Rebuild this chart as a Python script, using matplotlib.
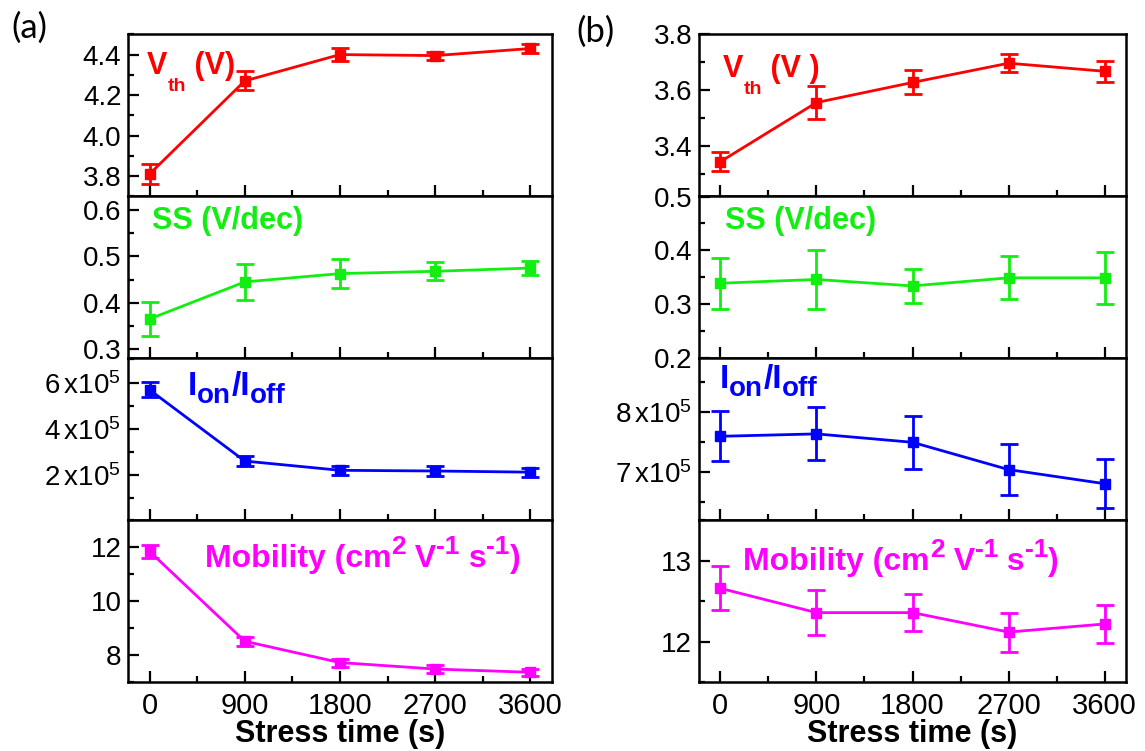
import matplotlib
matplotlib.use("Agg")
import matplotlib.pyplot as plt
import matplotlib.transforms as mtransforms
from matplotlib.ticker import MultipleLocator, FixedLocator, FuncFormatter

plt.rcParams['font.family'] = ['Liberation Sans', 'DejaVu Sans']
plt.rcParams['mathtext.fontset'] = 'custom'
plt.rcParams['mathtext.rm'] = 'Liberation Sans'
plt.rcParams['mathtext.bf'] = 'Liberation Sans:bold'

RED = "#FF0000"
GREEN = "#12EE12"
BLUE = "#0000FF"
MAGENTA = "#FF00FF"

# stress time (s)
t = [0, 900, 1800, 2700, 3600]

# (a)
a_vth = [3.81, 4.27, 4.40, 4.395, 4.43]
a_vth_err = [0.05, 0.047, 0.03, 0.02, 0.02]
a_ss = [0.365, 0.445, 0.463, 0.468, 0.475]
a_ss_err = [0.037, 0.039, 0.031, 0.019, 0.015]
a_ratio = [5.69e5, 2.61e5, 2.21e5, 2.18e5, 2.13e5]
a_ratio_err = [0.32e5, 0.2e5, 0.2e5, 0.2e5, 0.2e5]
a_mob = [11.85, 8.52, 7.73, 7.49, 7.37]
a_mob_err = [0.25, 0.17, 0.15, 0.15, 0.14]

# (b)
b_vth = [3.344, 3.556, 3.628, 3.697, 3.668]
b_vth_err = [0.035, 0.058, 0.043, 0.033, 0.038]
b_ss = [0.339, 0.346, 0.334, 0.349, 0.349]
b_ss_err = [0.047, 0.054, 0.032, 0.04, 0.048]
b_ratio = [7.6e5, 7.64e5, 7.5e5, 7.045e5, 6.81e5]
b_ratio_err = [0.415e5, 0.44e5, 0.44e5, 0.42e5, 0.41e5]
b_mob = [12.66, 12.36, 12.36, 12.12, 12.22]
b_mob_err = [0.27, 0.28, 0.23, 0.24, 0.24]

fig = plt.figure(figsize=(11.45, 7.51), dpi=100)
renderer = fig.canvas.get_renderer()

H = 0.2157
BOT = 0.0915
cols = [(0.1121, 0.4818 - 0.1121), (0.6105, 0.9834 - 0.6105)]


def ratio_fmt(v, p):
    return r'$\mathrm{%d{\,}x10^{5}}$' % round(v / 1e5)


def one_dec(v, p):
    return "%.1f" % v


def style(ax, bottom):
    for s in ax.spines.values():
        s.set_linewidth(1.8)
    ax.tick_params(which='both', direction='in', top=False, right=False,
                   width=1.6, labelsize=20, pad=5)
    ax.tick_params(which='major', length=8)
    ax.tick_params(which='minor', length=4.5)
    ax.set_xlim(-200, 3800)
    ax.xaxis.set_major_locator(FixedLocator(t))
    ax.xaxis.set_minor_locator(MultipleLocator(450))
    if bottom:
        ax.tick_params(axis='x', labelsize=21, pad=7)
    else:
        ax.tick_params(axis='x', labelbottom=False)


def draw(ax, y, err, color):
    ax.errorbar(t, y, yerr=err, fmt='-s', color=color, lw=2, ms=6.5,
                elinewidth=2, capsize=6.5, capthick=2)


def rich(ax, x, y, pieces, color):
    # pieces of (text, size, dy in points), laid out on one baseline
    ox = 0
    for s, size, dy in pieces:
        tr = mtransforms.offset_copy(ax.transAxes, fig=fig, x=ox, y=dy, units='points')
        txt = ax.text(x, y, s, transform=tr, fontsize=size, fontweight='bold',
                      color=color, va='baseline')
        ox += txt.get_window_extent(renderer).width * 72 / fig.dpi


axes = []
for c, (x0, w) in enumerate(cols):
    col = []
    for r in range(4):
        ax = fig.add_axes([x0, BOT + (3 - r) * H, w, H])
        style(ax, r == 3)
        col.append(ax)
    axes.append(col)

# ---- (a) ----
ax = axes[0][0]
draw(ax, a_vth, a_vth_err, RED)
ax.set_ylim(3.7, 4.5)
ax.yaxis.set_major_locator(FixedLocator([3.8, 4.0, 4.2, 4.4]))
ax.yaxis.set_minor_locator(MultipleLocator(0.1))
ax.yaxis.set_major_formatter(FuncFormatter(one_dec))
rich(ax, 0.044, 0.754, [("V", 22, 0), ("th", 14, -12), (" (V)", 22, 0)], RED)

ax = axes[0][1]
draw(ax, a_ss, a_ss_err, GREEN)
ax.set_ylim(0.28, 0.63)
ax.yaxis.set_major_locator(FixedLocator([0.3, 0.4, 0.5, 0.6]))
ax.yaxis.set_minor_locator(MultipleLocator(0.05))
ax.yaxis.set_major_formatter(FuncFormatter(one_dec))
ax.text(0.056, 0.846, "SS (V/dec)", transform=ax.transAxes, color=GREEN,
        fontsize=22, fontweight='bold', va='center')

ax = axes[0][2]
draw(ax, a_ratio, a_ratio_err, BLUE)
ax.set_ylim(0.05e5, 7.05e5)
ax.yaxis.set_major_locator(FixedLocator([2e5, 4e5, 6e5]))
ax.yaxis.set_minor_locator(MultipleLocator(1e5))
ax.yaxis.set_major_formatter(FuncFormatter(ratio_fmt))
rich(ax, 0.141, 0.773, [("I", 24, 0), ("on", 20, -5.5), ("/I", 24, 0), ("off", 20, -5.5)], BLUE)

ax = axes[0][3]
draw(ax, a_mob, a_mob_err, MAGENTA)
ax.set_ylim(7, 13)
ax.yaxis.set_major_locator(FixedLocator([8, 10, 12]))
ax.yaxis.set_minor_locator(MultipleLocator(1))
rich(ax, 0.181, 0.712, [("Mobility (cm", 23, 0), ("2", 19, 9), (" V", 23, 0), ("-1", 19, 9),
                        (" s", 23, 0), ("-1", 19, 9), (")", 23, 0)], MAGENTA)

# ---- (b) ----
ax = axes[1][0]
draw(ax, b_vth, b_vth_err, RED)
ax.set_ylim(3.22, 3.8005)
ax.yaxis.set_major_locator(FixedLocator([3.4, 3.6, 3.8]))
ax.yaxis.set_minor_locator(MultipleLocator(0.1))
ax.yaxis.set_major_formatter(FuncFormatter(one_dec))
rich(ax, 0.056, 0.735, [("V", 22, 0), ("th", 14, -12), (" (V )", 22, 0)], RED)

ax = axes[1][1]
draw(ax, b_ss, b_ss_err, GREEN)
ax.set_ylim(0.1995, 0.5005)
ax.yaxis.set_major_locator(FixedLocator([0.2, 0.3, 0.4, 0.5]))
ax.yaxis.set_minor_locator(MultipleLocator(0.05))
ax.yaxis.set_major_formatter(FuncFormatter(one_dec))
ax.text(0.061, 0.846, "SS (V/dec)", transform=ax.transAxes, color=GREEN,
        fontsize=22, fontweight='bold', va='center')

ax = axes[1][2]
draw(ax, b_ratio, b_ratio_err, BLUE)
ax.set_ylim(6.2e5, 8.9e5)
ax.yaxis.set_major_locator(FixedLocator([7e5, 8e5]))
ax.yaxis.set_minor_locator(MultipleLocator(0.5e5))
ax.yaxis.set_major_formatter(FuncFormatter(ratio_fmt))
rich(ax, 0.049, 0.817, [("I", 24, 0), ("on", 20, -5.5), ("/I", 24, 0), ("off", 20, -5.5)], BLUE)

ax = axes[1][3]
draw(ax, b_mob, b_mob_err, MAGENTA)
ax.set_ylim(11.5, 13.5)
ax.yaxis.set_major_locator(FixedLocator([12, 13]))
ax.yaxis.set_minor_locator(MultipleLocator(0.5))
rich(ax, 0.104, 0.696, [("Mobility (cm", 23, 0), ("2", 19, 9), (" V", 23, 0), ("-1", 19, 9),
                        (" s", 23, 0), ("-1", 19, 9), (")", 23, 0)], MAGENTA)

# x labels
for xc in (340 / 1145, 912 / 1145):
    fig.text(xc, 1 - 734 / 751, "Stress time (s)", fontsize=22, fontweight='bold',
             ha='center', va='center')

fig.text(29.5 / 1145, 1 - 28 / 751, "(a)", fontsize=25, family=['Lato', 'DejaVu Sans'],
         ha='center', va='center')
fig.text(595 / 1145, 1 - 31.5 / 751, "(b)", fontsize=25, family=['Lato', 'DejaVu Sans'],
         ha='center', va='center')

fig.savefig("out.png", dpi=100)
